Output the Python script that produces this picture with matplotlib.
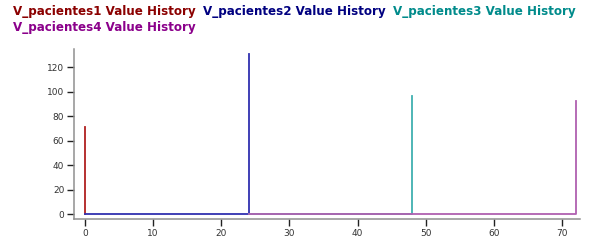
import matplotlib
matplotlib.use("Agg")
import matplotlib.pyplot as plt

series_names = ["V_pacientes1 Value History", "V_pacientes2 Value History",
                "V_pacientes3 Value History", "V_pacientes4 Value History"]
title_colors = ["#8b0000", "#000080", "#008b8b", "#8b008b"]
line_colors = ["#b02020", "#3030b0", "#40b0b0", "#b060b0"]

s1_t = [0, 0]
s1_v = [0, 71]
s2_t = [0, 24]
s2_v = [0, 131]
s3_t = [24, 48]
s3_v = [0, 96]
s4_t = [24, 72]
s4_v = [0, 92]

x_ticks = [0, 10, 20, 30, 40, 50, 60, 70]
y_ticks = [0, 20, 40, 60, 80, 100, 120]

fig = plt.figure(figsize=(5.96, 2.44), dpi=100)
ax = fig.add_axes([74/596, 1 - 219/244, (580 - 74)/596, (219 - 49)/244])

for t, v, c in [(s1_t, s1_v, line_colors[0]), (s2_t, s2_v, line_colors[1]),
                (s3_t, s3_v, line_colors[2]), (s4_t, s4_v, line_colors[3])]:
    ax.plot(t, v, drawstyle="steps-post", color=c, lw=1.3, clip_on=False)

ax.set_xlim(-1.61, 72.64)
ax.set_ylim(-4, 134.7)
ax.set_xticks(x_ticks)
ax.set_yticks(y_ticks)
for s in ["top", "right"]:
    ax.spines[s].set_visible(False)
for s in ["left", "bottom"]:
    ax.spines[s].set_color("#909090")
    ax.spines[s].set_linewidth(1.1)
ax.tick_params(axis="both", direction="out", length=5, width=1, color="#222222",
               labelsize=6.5, labelcolor="#333333", pad=2)

positions = [(13, 12), (203, 12), (393, 12), (13, 28)]
for name, c, (x, y) in zip(series_names, title_colors, positions):
    fig.text(x/596, 1 - y/244, name, color=c, fontsize=8.6, fontweight="bold",
             family="DejaVu Sans", va="center", ha="left")

fig.savefig("out.png", dpi=100)
